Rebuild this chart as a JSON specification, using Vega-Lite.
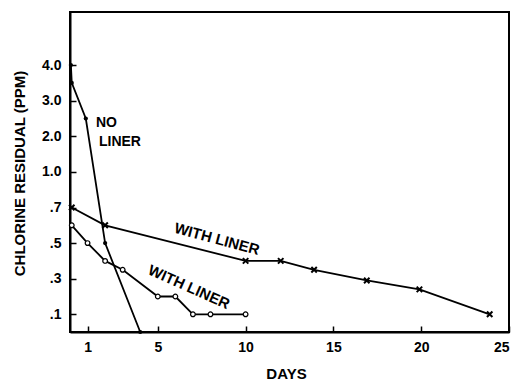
{
  "$schema": "https://vega.github.io/schema/vega-lite/v6.json",
  "width": 439,
  "height": 320,
  "autosize": {"type": "none"},
  "padding": {"left": 70, "top": 12, "right": 9, "bottom": 49},
  "background": "white",
  "config": {
    "view": {"stroke": "black", "strokeWidth": 2},
    "axis": {
      "grid": false,
      "domainColor": "black",
      "domainWidth": 2,
      "tickColor": "black",
      "tickWidth": 1.5,
      "tickSize": -6,
      "labelFont": "Liberation Sans",
      "labelFontWeight": "bold",
      "labelFontSize": 14,
      "labelColor": "black",
      "titleFont": "Liberation Sans",
      "titleFontWeight": "bold",
      "titleFontSize": 15,
      "titleColor": "black"
    },
    "text": {"font": "Liberation Sans", "fontWeight": "bold", "fontSize": 14, "color": "black"}
  },
  "datasets": {
    "pts": [
      {"series": "NO LINER", "seq": 1, "day": 0.05, "ppm": 4.0},
      {"series": "NO LINER", "seq": 2, "day": 0.1, "ppm": 3.5},
      {"series": "NO LINER", "seq": 3, "day": 0.9, "ppm": 2.5},
      {"series": "NO LINER", "seq": 4, "day": 2.0, "ppm": 0.5},
      {"series": "NO LINER", "seq": 5, "day": 4.0, "ppm": 0.0},
      {"series": "WITH LINER X", "seq": 1, "day": 0.1, "ppm": 0.7},
      {"series": "WITH LINER X", "seq": 2, "day": 2.0, "ppm": 0.6},
      {"series": "WITH LINER X", "seq": 3, "day": 10.0, "ppm": 0.4},
      {"series": "WITH LINER X", "seq": 4, "day": 12.0, "ppm": 0.4},
      {"series": "WITH LINER X", "seq": 5, "day": 13.9, "ppm": 0.35},
      {"series": "WITH LINER X", "seq": 6, "day": 16.9, "ppm": 0.29},
      {"series": "WITH LINER X", "seq": 7, "day": 19.9, "ppm": 0.24},
      {"series": "WITH LINER X", "seq": 8, "day": 23.9, "ppm": 0.1},
      {"series": "WITH LINER O", "seq": 1, "day": 0.1, "ppm": 0.6},
      {"series": "WITH LINER O", "seq": 2, "day": 1.0, "ppm": 0.5},
      {"series": "WITH LINER O", "seq": 3, "day": 2.0, "ppm": 0.4},
      {"series": "WITH LINER O", "seq": 4, "day": 3.0, "ppm": 0.35},
      {"series": "WITH LINER O", "seq": 5, "day": 5.0, "ppm": 0.2},
      {"series": "WITH LINER O", "seq": 6, "day": 6.0, "ppm": 0.2},
      {"series": "WITH LINER O", "seq": 7, "day": 7.0, "ppm": 0.1},
      {"series": "WITH LINER O", "seq": 8, "day": 8.0, "ppm": 0.1},
      {"series": "WITH LINER O", "seq": 9, "day": 10.0, "ppm": 0.1}
    ],
    "labels": [
      {"text": "WITH LINER", "day": 8.37, "ppm": 0.523, "angle": 15},
      {"text": "WITH LINER", "day": 6.78, "ppm": 0.253, "angle": 24}
    ],
    "noliner": [
      {"text": "NO", "day": 1.48, "ppm": 2.37},
      {"text": "LINER", "day": 1.65, "ppm": 1.84}
    ]
  },
  "encoding": {
    "x": {
      "field": "day",
      "type": "quantitative",
      "scale": {"domain": [0, 25], "nice": false, "zero": false},
      "axis": {"values": [1, 5, 10, 15, 20, 25], "title": "DAYS", "labelPadding": 14, "titleX": 216, "titleY": 41, "titleBaseline": "middle", "titleAlign": "center"}
    },
    "y": {
      "field": "ppm",
      "type": "quantitative",
      "scale": {
        "domain": [0, 0.1, 0.3, 0.5, 0.7, 1, 2, 3, 4, 5.5],
        "range": [320, 302.3, 266.7, 231.1, 195.5, 159.9, 124.3, 88.7, 53.1, 0],
        "nice": false,
        "zero": false
      },
      "axis": {
        "values": [0.1, 0.3, 0.5, 0.7, 1, 2, 3, 4],
        "labelExpr": "datum.value < 1 ? replace(format(datum.value, '.1f'), '0.', '.') : format(datum.value, '.1f')",
        "title": "CHLORINE RESIDUAL (PPM)",
        "labelPadding": 15,
        "titleAngle": -90,
        "titleX": -51,
        "titleY": 161,
        "titleAlign": "center",
        "titleBaseline": "middle"
      }
    }
  },
  "layer": [
    {
      "data": {"name": "pts"},
      "mark": {"type": "line", "color": "black", "strokeWidth": 1.8},
      "encoding": {"detail": {"field": "series"}, "order": {"field": "seq", "type": "quantitative"}}
    },
    {
      "data": {"name": "pts"},
      "transform": [{"filter": "datum.series === 'NO LINER'"}],
      "mark": {"type": "point", "shape": "circle", "filled": true, "color": "black", "size": 18, "opacity": 1}
    },
    {
      "data": {"name": "pts"},
      "transform": [{"filter": "datum.series === 'WITH LINER O'"}],
      "mark": {"type": "point", "shape": "circle", "filled": true, "fill": "white", "stroke": "black", "strokeWidth": 1.2, "size": 22, "opacity": 1}
    },
    {
      "data": {"name": "pts"},
      "transform": [{"filter": "datum.series === 'WITH LINER X'"}],
      "mark": {"type": "point", "shape": "M-1,-1L1,1M-1,1L1,-1", "filled": false, "stroke": "black", "strokeWidth": 2, "size": 30, "opacity": 1}
    },
    {
      "data": {"name": "labels"},
      "mark": {"type": "text", "align": "center", "baseline": "middle", "fontSize": 15},
      "encoding": {
        "text": {"field": "text"},
        "angle": {"field": "angle", "type": "quantitative", "scale": null}
      }
    },
    {
      "data": {"name": "noliner"},
      "mark": {"type": "text", "align": "left", "baseline": "middle"},
      "encoding": {"text": {"field": "text"}}
    }
  ]
}
